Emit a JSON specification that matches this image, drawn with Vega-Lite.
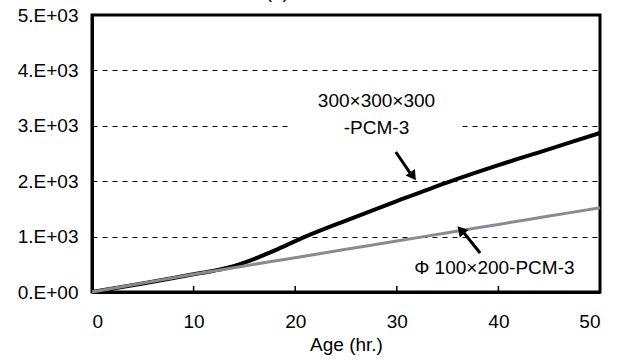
{
  "$schema": "https://vega.github.io/schema/vega-lite/v6.json",
  "width": 508,
  "height": 277,
  "autosize": {"type": "none"},
  "padding": {"left": 92, "right": 23, "top": 15, "bottom": 70},
  "background": "white",
  "config": {
    "font": "Liberation Sans",
    "view": {"stroke": "black", "strokeWidth": 3},
    "axis": {"labelFont": "Liberation Sans", "titleFont": "Liberation Sans", "labelColor": "black", "titleColor": "black", "labelFontSize": 19, "titleFontSize": 19, "titleFontWeight": "normal", "domainColor": "black", "domainWidth": 3, "tickColor": "black"}
  },
  "title": {"text": "(a)  CPC", "fontSize": 19, "fontWeight": "normal", "font": "Liberation Sans", "color": "black", "anchor": "middle", "dx": -46, "offset": 4},
  "datasets": {
    "curves": [
      {"age": 0, "value": 0, "series": "300×300×300-PCM-3"},
      {"age": 5, "value": 155, "series": "300×300×300-PCM-3"},
      {"age": 10, "value": 320, "series": "300×300×300-PCM-3"},
      {"age": 12, "value": 385, "series": "300×300×300-PCM-3"},
      {"age": 14, "value": 470, "series": "300×300×300-PCM-3"},
      {"age": 16, "value": 600, "series": "300×300×300-PCM-3"},
      {"age": 18, "value": 750, "series": "300×300×300-PCM-3"},
      {"age": 20.5, "value": 960, "series": "300×300×300-PCM-3"},
      {"age": 25, "value": 1290, "series": "300×300×300-PCM-3"},
      {"age": 30, "value": 1640, "series": "300×300×300-PCM-3"},
      {"age": 35, "value": 1980, "series": "300×300×300-PCM-3"},
      {"age": 40, "value": 2290, "series": "300×300×300-PCM-3"},
      {"age": 45, "value": 2580, "series": "300×300×300-PCM-3"},
      {"age": 50, "value": 2870, "series": "300×300×300-PCM-3"},
      {"age": 0, "value": 0, "series": "Φ100×200-PCM-3"},
      {"age": 5, "value": 160, "series": "Φ100×200-PCM-3"},
      {"age": 10, "value": 320, "series": "Φ100×200-PCM-3"},
      {"age": 15, "value": 470, "series": "Φ100×200-PCM-3"},
      {"age": 20, "value": 620, "series": "Φ100×200-PCM-3"},
      {"age": 25, "value": 770, "series": "Φ100×200-PCM-3"},
      {"age": 30, "value": 920, "series": "Φ100×200-PCM-3"},
      {"age": 35, "value": 1070, "series": "Φ100×200-PCM-3"},
      {"age": 40, "value": 1220, "series": "Φ100×200-PCM-3"},
      {"age": 45, "value": 1370, "series": "Φ100×200-PCM-3"},
      {"age": 50, "value": 1520, "series": "Φ100×200-PCM-3"}
    ]
  },
  "layer": [
    {
      "data": {"values": [{"x1": 19.7, "x2": 36.4, "y1": 2750, "y2": 3600}]},
      "mark": {"type": "rect", "fill": "white", "stroke": null},
      "encoding": {
        "x": {"field": "x1", "type": "quantitative", "scale": {"domain": [0, 50]}, "axis": {"values": [0, 10, 20, 30, 40, 50], "title": "Age (hr.)", "grid": false, "ticks": false, "labelPadding": 20, "titlePadding": 4}},
        "x2": {"field": "x2"},
        "y": {"field": "y1", "type": "quantitative", "scale": {"domain": [0, 5000]}, "axis": {"values": [0, 1000, 2000, 3000, 4000, 5000], "title": null, "ticks": false, "labelPadding": 14, "grid": true, "gridDash": [5, 5], "gridColor": "black", "gridWidth": 1, "labelExpr": "datum.value == 0 ? '0.E+00' : format(datum.value / 1000, 'd') + '.E+03'"}},
        "y2": {"field": "y2"}
      }
    },
    {
      "data": {"values": [{"tick": 10}, {"tick": 20}, {"tick": 30}, {"tick": 40}]},
      "mark": {"type": "rule", "color": "black", "strokeWidth": 1.5},
      "encoding": {
        "x": {"field": "tick", "type": "quantitative"},
        "y": {"datum": 0},
        "y2": {"datum": 110}
      }
    },
    {
      "data": {"name": "curves"},
      "transform": [{"filter": "datum.series == '300×300×300-PCM-3'"}],
      "mark": {"type": "line", "color": "black", "strokeWidth": 4, "interpolate": "monotone"},
      "encoding": {
        "x": {"field": "age", "type": "quantitative"},
        "y": {"field": "value", "type": "quantitative"}
      }
    },
    {
      "data": {"name": "curves"},
      "transform": [{"filter": "datum.series == 'Φ100×200-PCM-3'"}],
      "mark": {"type": "line", "color": "#8a8a94", "strokeWidth": 3, "interpolate": "monotone"},
      "encoding": {
        "x": {"field": "age", "type": "quantitative"},
        "y": {"field": "value", "type": "quantitative"}
      }
    },
    {
      "data": {"values": [{"x": 29.9, "y": 2527, "x2": 31.3, "y2": 2150}, {"x": 38.2, "y": 704, "x2": 36.6, "y2": 1070}]},
      "mark": {"type": "rule", "color": "black", "strokeWidth": 3},
      "encoding": {
        "x": {"field": "x", "type": "quantitative"},
        "y": {"field": "y", "type": "quantitative"},
        "x2": {"field": "x2"},
        "y2": {"field": "y2"}
      }
    },
    {
      "data": {"values": [{"x": 31.6, "y": 2090}]},
      "mark": {"type": "point", "shape": "triangle-up", "filled": true, "color": "black", "size": 130, "angle": 145, "opacity": 1},
      "encoding": {
        "x": {"field": "x", "type": "quantitative"},
        "y": {"field": "y", "type": "quantitative"}
      }
    },
    {
      "data": {"values": [{"x": 36.3, "y": 1120}]},
      "mark": {"type": "point", "shape": "triangle-up", "filled": true, "color": "black", "size": 130, "angle": 319, "opacity": 1},
      "encoding": {
        "x": {"field": "x", "type": "quantitative"},
        "y": {"field": "y", "type": "quantitative"}
      }
    },
    {
      "data": {"values": [{"x": 28.0, "y": 3440, "label": "300×300×300"}, {"x": 28.0, "y": 2960, "label": "-PCM-3"}, {"x": 39.6, "y": 433, "label": "Φ 100×200-PCM-3"}]},
      "mark": {"type": "text", "fontSize": 19, "font": "Liberation Sans", "color": "black", "align": "center", "baseline": "middle"},
      "encoding": {
        "x": {"field": "x", "type": "quantitative"},
        "y": {"field": "y", "type": "quantitative"},
        "text": {"field": "label"}
      }
    }
  ]
}
